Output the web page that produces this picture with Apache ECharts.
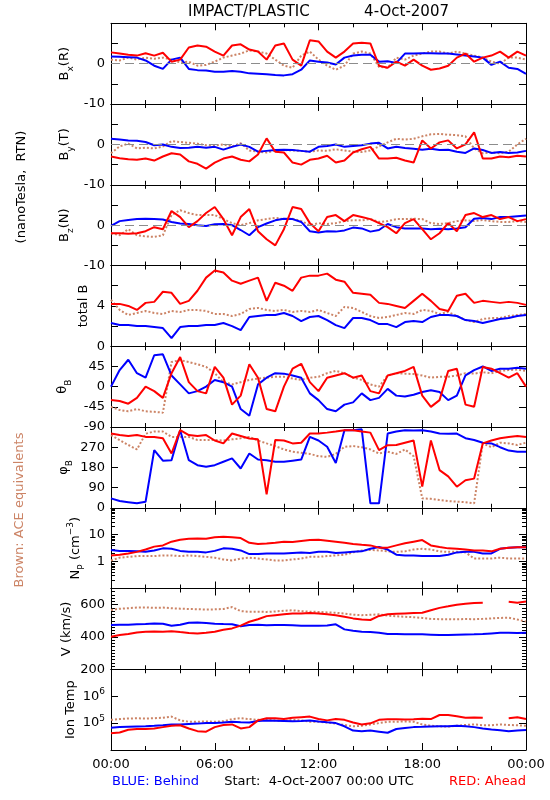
<!DOCTYPE html>
<html><head><meta charset="utf-8">
<script src="https://cdn.jsdelivr.net/npm/echarts@6/dist/echarts.min.js"></script>
<style>html,body{margin:0;padding:0;background:#fff}#c{width:550px;height:800px}</style>
</head><body><div id="c"></div>
<script>
// time (hours from 4-Oct-2007 00:00 UTC)
const hours = [0,0.5,1,1.5,2,2.5,3,3.5,4,4.5,5,5.5,6,6.5,7,7.5,8,8.5,9,9.5,10,10.5,11,11.5,12,12.5,13,13.5,14,14.5,15,15.5,16,16.5,17,17.5,18,18.5,19,19.5,20,20.5,21,21.5,22,22.5,23,23.5,24];
const timeTicks = ['00:00','06:00','12:00','18:00','00:00'];
const npMinorTicks = [0.2,0.3,0.4,0.5,0.6,0.7,0.8,0.9,2,3,4,5,6,7,8,9,20,30,40,50,60,70,80,90];

// Bx (R), nT
const bxRed   = [2.8,2.5,2.2,2.0,2.6,2.0,2.7,0.5,1.0,4.0,4.5,4.2,3.0,2.0,4.5,4.8,3.5,3.0,1.0,4.5,5.0,1.0,-0.5,5.8,5.5,3.0,1.5,3.0,5.0,5.2,5.0,-0.5,-1.0,0.5,-0.5,1.0,-0.5,-1.5,-1.2,-0.5,1.5,2.5,0.5,1.5,2.0,3.0,1.5,3.0,2.0];
const bxBlue  = [1.8,1.7,1.6,1.5,0.8,-0.5,-1.3,1.0,1.5,-1.3,-1.6,-1.7,-2.0,-2.0,-1.8,-2.0,-2.4,-2.5,-2.6,-2.8,-2.9,-2.6,-1.5,0.8,0.5,0.3,-0.2,1.5,2.0,2.2,2.2,0.5,0.6,0.2,2.5,2.5,2.6,2.6,2.5,2.5,2.3,2.0,1.8,1.5,-0.3,0.5,-1.0,-1.3,-2.5];
const bxBrown = [1.0,0.8,1.5,1.0,1.5,1.2,1.5,1.0,0.3,0.5,-0.5,-0.3,0.5,1.5,2.0,2.5,3.3,3.0,2.5,1.0,-0.5,-1.0,2.0,3.0,1.0,-0.5,-1.5,-0.5,2.5,3.0,2.5,-0.8,-1.0,1.5,1.0,2.0,2.5,3.0,3.0,2.5,3.0,2.5,2.0,1.5,0.5,0.0,1.5,1.5,1.0];
// By (T), nT
const byRed   = [-3.0,-3.4,-3.7,-3.8,-3.5,-4.0,-3.0,-2.2,-2.5,-4.2,-4.8,-6.0,-4.5,-3.5,-3.0,-3.8,-4.2,-2.5,1.5,-1.8,-2.0,-4.5,-5.0,-3.8,-3.5,-2.8,-4.5,-4.0,-2.0,-1.2,-0.6,-3.5,-3.5,-3.3,-4.0,-4.5,1.0,-1.0,0.5,1.0,-1.0,0.0,3.0,-3.5,-3.5,-3.0,-3.2,-2.8,-3.0];
const byBlue  = [1.4,1.2,1.0,0.9,0.6,-0.2,0,-0.6,-0.9,-0.8,-0.6,-0.8,-0.6,-1.3,-0.6,0,-0.6,-1.8,-1.6,-1.4,-1.3,-1.4,-1.6,-1.8,-0.6,-0.4,0,-0.6,-0.4,-0.2,0.2,0.4,-1.0,-0.6,-0.9,-1.1,-1.3,-1.1,-1.4,-1.3,-1.8,-2.1,-1.0,-1.4,-2.1,-1.9,-2.1,-2.0,-1.6];
const byBrown = [-2.2,-0.5,0.2,-1.0,-0.8,-1.0,-0.5,0.8,0.6,0.4,0.2,-0.2,-0.3,0.0,-0.5,0.3,-1.5,-1.8,-2.0,-1.5,-1.4,-1.5,-1.6,-1.8,-1.5,-1.6,-1.2,-1.5,-1.8,-1.9,-1.5,-0.5,0.5,1.4,1.2,1.4,2.0,2.5,2.6,2.4,2.3,2.0,-1.0,-2.2,-2.0,-2.2,-1.8,0.0,1.4];
// Bz (N), nT
const bzRed   = [-2.0,-2.0,-2.1,-2.0,-1.5,-0.5,-1.0,3.5,2.0,-0.5,1.0,3.0,4.5,1.5,-2.5,2.0,4.0,-1.5,-3.5,-5.0,-1.0,4.5,4.0,0.5,-1.5,2.0,2.5,1.0,2.5,2.0,1.5,0.5,-0.5,-2.0,0.5,1.5,-1.0,-3.5,-2.0,0.5,-1.5,2.5,3.0,2.0,2.5,1.5,2.0,1.0,1.5];
const bzBlue  = [-0.2,1.0,1.3,1.5,1.6,1.5,1.4,0.8,0.4,0.3,0.0,-0.2,0.2,0.3,0.0,-1.2,-2.5,-0.5,0.4,1.2,1.6,1.5,0.8,-1.5,-1.8,-1.5,-1.6,-1.3,-0.6,-0.8,-1.6,-1.2,0.3,-0.5,-0.8,-0.8,-0.8,-1.0,-0.9,-1.0,-0.8,-0.5,1.6,1.8,1.5,2.0,2.0,2.2,2.4];
const bzBrown = [-2.0,-2.5,-1.0,-2.5,-2.8,-2.9,-2.5,2.5,3.7,3.0,2.5,2.5,2.5,1.5,0.5,0.0,0.5,1.2,1.5,1.8,1.5,1.6,1.0,0.0,0.5,0.3,0.5,1.0,1.2,1.2,1.5,0.8,1.0,1.5,1.5,1.6,1.5,0.5,0.3,0.5,1.0,1.2,1.0,1.3,1.0,0.8,0.8,1.0,0.8];
// total B, nT
const btRed   = [4.2,4.2,4.0,3.6,4.3,4.4,5.4,5.3,4.2,4.5,5.5,6.8,7.5,7.3,6.5,6.2,6.5,6.8,4.5,6.3,6.0,5.5,6.8,7.0,7.0,7.2,6.6,6.4,5.3,5.2,5.1,4.3,4.2,4.0,3.8,4.5,5.2,4.5,3.7,3.5,5.0,5.2,4.3,4.5,4.4,4.3,4.4,4.3,4.1];
const btBlue  = [2.3,2.1,2.1,2.0,2.0,1.9,1.8,0.8,1.9,2.0,2.0,2.1,2.1,2.3,2.0,1.6,2.9,3.0,3.1,3.1,3.3,3.0,2.5,2.9,3.0,2.6,2.1,1.8,2.8,2.8,2.6,2.2,2.2,1.9,2.4,2.5,2.4,2.9,3.1,3.1,3.0,2.6,2.5,2.3,2.5,2.7,2.8,3.0,3.1];
const btBrown = [4.6,3.6,3.1,3.3,3.5,3.3,3.2,3.5,3.4,3.6,3.6,3.5,3.2,3.2,3.0,3.2,3.7,3.8,3.6,3.5,3.6,3.4,3.5,3.4,3.6,3.3,3.0,3.9,3.8,3.4,3.0,2.8,2.9,3.1,3.3,3.2,3.6,3.5,3.2,3.4,3.0,2.6,2.4,2.7,2.8,2.8,3.0,3.1,3.2];
// theta_B, deg
const thRed   = [-30,-32,-38,-25,0,-10,-25,30,66,10,-10,-15,44,20,-40,-20,50,20,-50,-55,0,40,51,10,-10,20,25,30,20,25,-10,-15,25,30,35,44,-20,-45,-30,35,40,-40,-45,44,40,30,20,30,0];
const thBlue  = [0,37,60,30,20,70,72,25,5,-15,-10,0,15,10,0,-50,-65,5,20,30,29,25,20,-15,-30,-50,-55,-40,-35,-15,-30,-25,-5,-20,-22,-18,-12,-8,-12,-30,-20,25,37,45,35,40,40,42,40];
const thBrown = [-45,-52,-55,-50,-55,-56,-58,55,59,55,50,44,30,10,5,10,15,18,20,22,22,18,15,20,22,30,35,30,20,15,5,0,25,30,29,28,25,20,22,22,25,30,29,32,30,35,37,38,35];
// phi_B, deg
const phRed   = [331,324,320,324,316,316,310,242,346,324,320,324,300,287,331,320,309,305,60,302,300,287,290,331,331,335,340,346,346,340,335,257,279,280,290,300,94,300,168,140,94,123,130,287,300,310,316,320,316];
const phBlue  = [42,30,25,20,27,257,210,212,346,212,190,183,190,205,220,175,242,215,212,205,205,210,215,316,300,272,200,346,346,350,20,20,331,340,346,345,346,340,331,330,331,310,302,290,287,270,255,250,250];
const phBrown = [324,302,280,260,330,340,340,316,316,316,302,302,302,300,305,310,316,300,287,275,260,250,245,240,230,227,240,272,275,270,260,242,250,240,260,230,42,40,35,30,27,25,20,287,270,290,287,280,290];
// Np, cm^-3
const npRed   = [1.7,1.8,2.0,2.3,2.8,3.6,4.0,5.5,6.5,7.0,7.2,7.0,8.0,8.4,8.0,7.5,5.0,4.5,4.7,5.0,5.5,5.3,5.8,6.3,6.5,6.0,5.5,5.0,4.5,4.2,4.0,3.3,3.3,4.0,4.8,5.5,6.3,4.0,3.5,3.1,3.0,2.8,2.6,2.6,2.4,3.0,3.3,3.4,3.4];
const npBlue  = [2.7,2.5,2.5,2.4,2.3,2.6,3.1,3.0,2.5,2.3,2.3,2.2,2.5,3.1,3.0,2.6,1.9,1.9,2.0,2.0,2.0,2.1,2.2,2.1,2.3,2.3,2.1,2.2,2.3,2.4,3.0,3.5,2.8,1.8,1.7,1.7,1.6,1.6,1.6,1.8,2.2,2.3,2.3,2.0,2.0,3.0,3.3,3.4,3.4];
const npBrown = [1.1,1.4,1.5,1.6,1.6,1.6,1.7,1.7,1.6,1.7,1.6,1.5,1.4,1.2,1.1,1.3,1.4,1.3,1.2,1.1,1.1,1.2,1.3,1.5,1.5,1.6,1.7,1.8,2.2,2.6,2.7,2.6,2.4,2.3,2.4,2.8,3.0,2.8,2.4,2.3,2.3,2.2,1.3,1.3,1.3,1.4,1.3,1.3,1.3];
// V, km/s
const vRed    = [401,412,418,428,432,434,432,436,430,425,422,426,432,445,453,470,494,510,529,535,541,545,546,548,545,540,535,525,515,508,505,530,540,544,546,548,550,565,580,590,600,606,610,612,null,null,618,612,620];
const vBlue   = [474,475,476,478,480,484,482,469,475,488,490,486,482,480,479,466,474,475,472,474,474,472,470,469,470,471,478,447,438,432,430,426,418,418,416,417,416,414,412,412,414,415,416,418,422,426,426,424,426];
const vBrown  = [567,575,578,582,583,580,582,578,575,573,572,570,571,573,585,560,556,556,555,558,562,565,560,556,555,552,550,545,538,535,537,540,532,528,525,522,518,512,510,510,509,511,510,512,515,518,519,508,495];
// Ion temperature, K
const tRed    = [41700,44700,56200,60300,60300,63100,70800,79400,83200,63100,50100,47900,70800,85100,89100,63100,70800,126000,151000,151000,141000,158000,166000,174000,141000,126000,141000,132000,105000,89100,97700,132000,138000,138000,135000,138000,145000,141000,200000,200000,178000,158000,162000,158000,null,null,151000,166000,141000];
const tBlue   = [67600,70800,72400,74100,75900,79400,83200,89100,89100,93300,95500,100000,100000,105000,112000,107000,105000,120000,126000,123000,120000,117000,120000,126000,115000,107000,100000,75900,52500,50100,52500,47900,43700,60300,66100,70800,72400,74100,75900,75900,79400,75900,70800,63100,57500,53700,50100,52500,55000];
const tBrown  = [132000,141000,148000,151000,148000,151000,158000,174000,126000,112000,112000,115000,112000,117000,141000,151000,141000,132000,132000,126000,120000,132000,126000,112000,112000,105000,95500,85100,75900,79400,89100,100000,112000,112000,115000,112000,89100,79400,75900,74100,79400,85100,89100,83200,83200,89100,85100,83200,79400];

const RED = '#ff0000', BLUE = '#0000ff', BROWN = '#cc8466';
const FONT = 'DejaVu Sans';

const panels = [
  {title:'{b|B}{s|x}{b|(R)}', tx:65, ax:{type:'value',min:-10,max:10,interval:5}, show:[-10,0], zero:true, d:[bxBrown,bxBlue,bxRed]},
  {title:'{b|B}{s|y}{b|(T)}', tx:65, ax:{type:'value',min:-10,max:10,interval:5}, show:[-10,0], zero:true, d:[byBrown,byBlue,byRed]},
  {title:'{b|B}{s|z}{b|(N)}', tx:65, ax:{type:'value',min:-10,max:10,interval:5}, show:[-10,0], zero:true, d:[bzBrown,bzBlue,bzRed]},
  {title:'{b|total B}', tx:84, ax:{type:'value',min:0,max:8,interval:2}, show:[0,4], d:[btBrown,btBlue,btRed]},
  {title:'{b|θ}{s|B}', tx:63, ax:{type:'value',min:-90,max:90,interval:45}, show:[-90,-45,0,45], d:[thBrown,thBlue,thRed]},
  {title:'{b|φ}{s|B}', tx:64, ax:{type:'value',min:0,max:360,interval:90}, show:[0,90,180,270], d:[phBrown,phBlue,phRed]},
  {title:'{b|N}{s|P}{b| (cm}{u|−3}{b|)}', tx:76, ax:{type:'log',min:0.1,max:100,logBase:10}, show:[0,1], log:true, logMinor:npMinorTicks, d:[npBrown,npBlue,npRed]},
  {title:'{b|V (km/s)}', tx:67, ax:{type:'value',min:200,max:700,interval:200}, show:[200,400,600], minor:10, d:[vBrown,vBlue,vRed]},
  {title:'{b|Ion Temp}', tx:71, ax:{type:'log',min:1e4,max:1e7,logBase:10}, show:[5,6], log:true, sup:true, d:[tBrown,tBlue,tRed]}
];

const top0 = 23.3, ph = (750 - 23.3) / 9;
const grids = [], xAxis = [], yAxis = [], series = [], graphic = [];
const black = {color:'#000', width:1};
const richSub = {
  b:{fontFamily:FONT,fontSize:13,color:'#000',lineHeight:20},
  s:{fontFamily:FONT,fontSize:9,color:'#000',lineHeight:20,verticalAlign:'bottom'},
  u:{fontFamily:FONT,fontSize:9,color:'#000',lineHeight:20,verticalAlign:'top'}
};

panels.forEach((p, i) => {
  const top = top0 + i * ph;
  grids.push({left:111, width:415, top:top, height:ph, outerBoundsMode:'none'});
  ['bottom','top'].forEach(pos => {
    xAxis.push({
      gridIndex:i, type:'value', min:0, max:24, interval:6, position:pos,
      axisLine:{onZero:false, lineStyle:black},
      axisTick:{inside:true, length:7, lineStyle:black},
      minorTick:{show:true, splitNumber:3, length:4, lineStyle:black},
      splitLine:{show:false},
      axisLabel:{show: (i === 8 && pos === 'bottom'), margin:8, fontFamily:FONT, fontSize:13, color:'#000',
        formatter: v => timeTicks[Math.round(v / 6)]}
    });
  });
  const mainY = yAxis.length;
  ['left','right'].forEach(pos => {
    const ya = Object.assign({}, p.ax, {
      gridIndex:i, position:pos,
      axisLine:{onZero:false, lineStyle:black},
      axisTick:{inside:true, length:7, lineStyle:black},
      splitLine:{show:false},
      axisLabel:{show: pos === 'left', margin:6, fontFamily:FONT, fontSize:13, color:'#000',
        rich:{s:{fontFamily:FONT,fontSize:9,color:'#000',verticalAlign:'top',lineHeight:18}, n:{fontFamily:FONT,fontSize:13,color:'#000',lineHeight:18}},
        formatter: v => {
          if (p.log) {
            const e = Math.round(Math.log10(v));
            if (!p.show.includes(e)) return '';
            return p.sup ? '{n|10}{s|' + e + '}' : String(Math.pow(10, e));
          }
          return p.show.includes(v) ? String(v) : '';
        }}
    });
    if (p.minor) ya.minorTick = {show:true, splitNumber:p.minor, length:4, lineStyle:black};
    yAxis.push(ya);
  });
  if (p.logMinor) {
    ['left','right'].forEach(pos => {
      yAxis.push(Object.assign({}, p.ax, {
        gridIndex:i, position:pos,
        axisLine:{show:false, onZero:false},
        axisTick:{show:true, inside:true, length:4, lineStyle:black, customValues:p.logMinor},
        axisLabel:{show:false}, splitLine:{show:false}
      }));
    });
  }
  const cols = [BROWN, BLUE, RED];
  p.d.forEach((arr, k) => {
    const s = {
      type:'line', xAxisIndex:2*i, yAxisIndex:mainY, showSymbol:false, symbol:'none',
      connectNulls:false, clip:true, animation:false, z:2+k,
      lineStyle:{color:cols[k], width:2, type: k === 0 ? [2,2] : 'solid'},
      data: hours.map((h, j) => [h, arr[j]])
    };
    if (k === 0 && p.zero) {
      s.markLine = {silent:true, symbol:'none', animation:false, label:{show:false},
        lineStyle:{color:'#8c8c8c', type:[9,5], width:1}, data:[{yAxis:0}]};
    }
    series.push(s);
  });
  graphic.push({type:'text', x:p.tx, y:top + ph / 2, rotation:Math.PI / 2,
    style:{text:p.title, rich:richSub, align:'center', verticalAlign:'middle', textAlign:'center', textVerticalAlign:'middle'}});
});

graphic.push(
  {type:'text', x:188, y:12, style:{text:'IMPACT/PLASTIC', font:'15px ' + FONT, fill:'#000', align:'left', verticalAlign:'middle', textAlign:'left', textVerticalAlign:'middle'}},
  {type:'text', x:449, y:12, style:{text:'4-Oct-2007', font:'15px ' + FONT, fill:'#000', align:'right', verticalAlign:'middle', textAlign:'right', textVerticalAlign:'middle'}},
  {type:'text', x:22, y:187, rotation:Math.PI / 2, style:{text:'(nanoTesla,  RTN)', font:'13px ' + FONT, fill:'#000', align:'center', verticalAlign:'middle', textAlign:'center', textVerticalAlign:'middle'}},
  {type:'text', x:20, y:510, rotation:Math.PI / 2, style:{text:'Brown: ACE equivalents', font:'13px ' + FONT, fill:BROWN, align:'center', verticalAlign:'middle', textAlign:'center', textVerticalAlign:'middle'}},
  {type:'text', x:112, y:782, style:{text:'BLUE: Behind', font:'13px ' + FONT, fill:BLUE, align:'left', verticalAlign:'middle', textAlign:'left', textVerticalAlign:'middle'}},
  {type:'text', x:319, y:782, style:{text:'Start:  4-Oct-2007 00:00 UTC', font:'13px ' + FONT, fill:'#000', align:'center', verticalAlign:'middle', textAlign:'center', textVerticalAlign:'middle'}},
  {type:'text', x:526, y:782, style:{text:'RED: Ahead', font:'13px ' + FONT, fill:RED, align:'right', verticalAlign:'middle', textAlign:'right', textVerticalAlign:'middle'}}
);

const chart = echarts.init(document.getElementById('c'), null, {renderer:'canvas'});
chart.setOption({
  backgroundColor:'#fff', animation:false,
  grid:grids, xAxis:xAxis, yAxis:yAxis, series:series, graphic:graphic
});
</script>
</body></html>
